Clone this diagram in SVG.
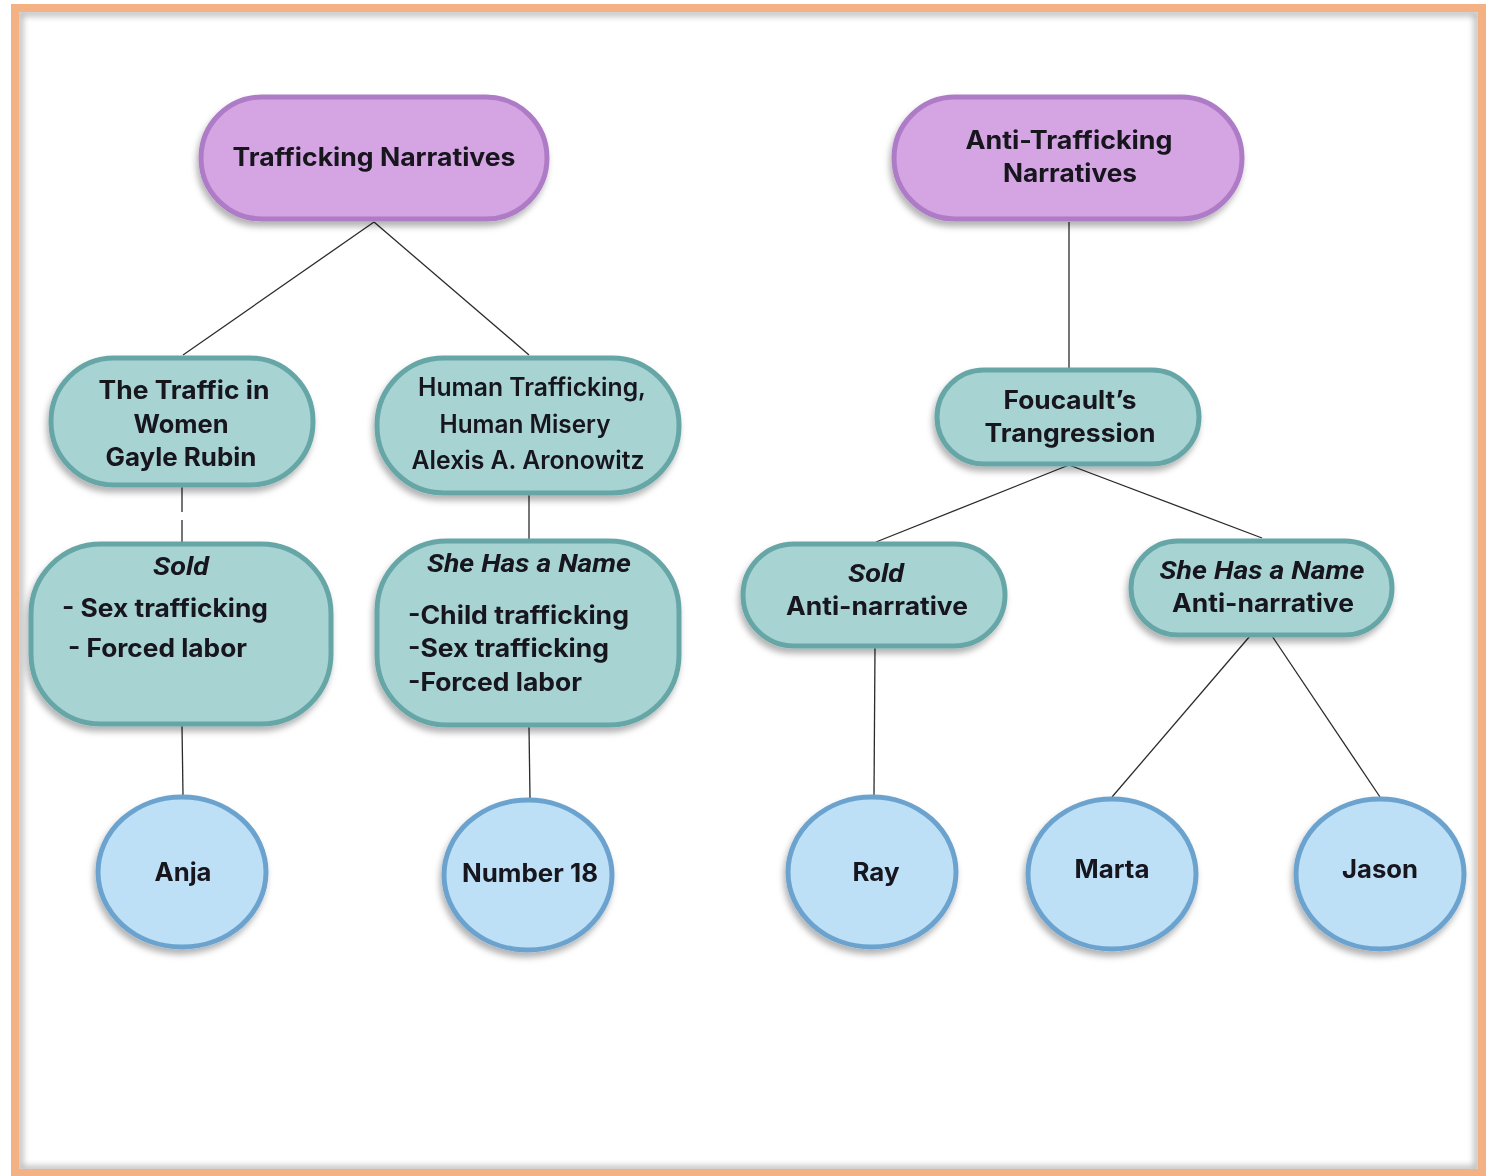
<svg xmlns="http://www.w3.org/2000/svg" width="1493" height="1176" viewBox="0 0 1493 1176">
<defs>
<filter id="sh" x="-20%" y="-20%" width="140%" height="150%">
<feDropShadow dx="-2" dy="5" stdDeviation="3" flood-color="#000" flood-opacity="0.3"/>
</filter>
<filter id="fsh" x="-5%" y="-5%" width="110%" height="110%">
<feGaussianBlur stdDeviation="3"/>
</filter>
</defs>
<style>
.root{fill:#D4A5E2;stroke:#AE7BC6;stroke-width:5}
.mid{fill:#A8D3D3;stroke:#66A6A7;stroke-width:5}
.leaf{fill:#BDE0F6;stroke:#6CA3CE;stroke-width:5}
text{font-family:Inter,"Noto Sans","Liberation Sans",sans-serif;font-size:25px;font-weight:700;fill:#16131f;text-anchor:middle}
.it{font-style:italic;font-family:Roboto,"Liberation Sans",sans-serif}
.md{font-weight:600}
.st{text-anchor:start}
.c{stroke:#2b2b2b;stroke-width:1.3;fill:none}
</style>
<rect x="0" y="0" width="1493" height="1176" fill="#fff"/>
<rect x="20" y="13" width="1457" height="1156" fill="none" stroke="#000" stroke-opacity="0.28" stroke-width="6" filter="url(#fsh)"/>
<rect x="15" y="8" width="1467" height="1165" fill="none" stroke="#F4B183" stroke-width="8"/>
<g id="connectors">
<path class="c" d="M374,222 L183,355"/>
<path class="c" d="M374,222 L529,355"/>
<path class="c" d="M182,487 V512 M182,520 V542"/>
<path class="c" d="M529,495 V540"/>
<path class="c" d="M182,726 L183,795"/>
<path class="c" d="M529,727 L530,798"/>
<path class="c" d="M1069,222 V368"/>
<path class="c" d="M1069,465 L876,542"/>
<path class="c" d="M1069,465 L1262,538"/>
<path class="c" d="M875,648 L874,795"/>
<path class="c" d="M1250,636 L1112,797"/>
<path class="c" d="M1272,636 L1380,797"/>
</g>
<g id="n-trafficking" filter="url(#sh)">
<rect class="root" x="201" y="97" width="346" height="122" rx="61"/>
<text x="374" y="166" textLength="283" lengthAdjust="spacingAndGlyphs">Trafficking Narratives</text>
</g>
<g id="n-anti" filter="url(#sh)">
<rect class="root" x="894" y="97" width="348" height="122" rx="61"/>
<text x="1069" y="149" textLength="207" lengthAdjust="spacingAndGlyphs">Anti-Trafficking</text>
<text x="1070" y="182" textLength="134" lengthAdjust="spacingAndGlyphs">Narratives</text>
</g>
<g id="n-rubin" filter="url(#sh)">
<rect class="mid" x="51" y="358" width="262" height="127" rx="63"/>
<text x="184" y="399" textLength="171" lengthAdjust="spacingAndGlyphs">The Traffic in</text>
<text x="181" y="433" textLength="95" lengthAdjust="spacingAndGlyphs">Women</text>
<text x="181" y="466" textLength="151" lengthAdjust="spacingAndGlyphs">Gayle Rubin</text>
</g>
<g id="n-aronowitz" filter="url(#sh)">
<rect class="mid" x="377" y="358" width="302" height="135" rx="67"/>
<text class="md" x="532" y="396" textLength="228" lengthAdjust="spacingAndGlyphs">Human Trafficking,</text>
<text class="md" x="525" y="433" textLength="171" lengthAdjust="spacingAndGlyphs">Human Misery</text>
<text class="md" x="528" y="469" textLength="233" lengthAdjust="spacingAndGlyphs">Alexis A. Aronowitz</text>
</g>
<g id="n-sold" filter="url(#sh)">
<rect class="mid" x="31" y="544" width="300" height="180" rx="70"/>
<text class="it" x="181" y="575" textLength="56" lengthAdjust="spacingAndGlyphs">Sold</text>
<text class="st" x="62" y="617" textLength="206" lengthAdjust="spacingAndGlyphs">- Sex trafficking</text>
<text class="st" x="68" y="657" textLength="179" lengthAdjust="spacingAndGlyphs">- Forced labor</text>
</g>
<g id="n-shehas" filter="url(#sh)">
<rect class="mid" x="377" y="541" width="302" height="184" rx="70"/>
<text class="it" x="529" y="572" textLength="204" lengthAdjust="spacingAndGlyphs">She Has a Name</text>
<text class="st" x="408" y="624" textLength="221" lengthAdjust="spacingAndGlyphs">-Child trafficking</text>
<text class="st" x="408" y="657" textLength="201" lengthAdjust="spacingAndGlyphs">-Sex trafficking</text>
<text class="st" x="408" y="691" textLength="174" lengthAdjust="spacingAndGlyphs">-Forced labor</text>
</g>
<g id="n-foucault" filter="url(#sh)">
<rect class="mid" x="937" y="370" width="262" height="94" rx="47"/>
<text x="1070" y="409" textLength="133" lengthAdjust="spacingAndGlyphs">Foucault’s</text>
<text x="1070" y="442" textLength="171" lengthAdjust="spacingAndGlyphs">Trangression</text>
</g>
<g id="n-sold-anti" filter="url(#sh)">
<rect class="mid" x="743" y="544" width="262" height="102" rx="51"/>
<text class="it" x="876" y="582" textLength="56" lengthAdjust="spacingAndGlyphs">Sold</text>
<text x="877" y="615" textLength="182" lengthAdjust="spacingAndGlyphs">Anti-narrative</text>
</g>
<g id="n-shehas-anti" filter="url(#sh)">
<rect class="mid" x="1131" y="541" width="261" height="94" rx="47"/>
<text class="it" x="1262" y="579" textLength="205" lengthAdjust="spacingAndGlyphs">She Has a Name</text>
<text x="1263" y="612" textLength="182" lengthAdjust="spacingAndGlyphs">Anti-narrative</text>
</g>
<g id="n-anja" filter="url(#sh)">
<ellipse class="leaf" cx="182" cy="872" rx="84" ry="75"/>
<text x="183" y="881" textLength="57" lengthAdjust="spacingAndGlyphs">Anja</text>
</g>
<g id="n-number18" filter="url(#sh)">
<ellipse class="leaf" cx="528" cy="875" rx="84" ry="75"/>
<text x="530" y="882" textLength="136" lengthAdjust="spacingAndGlyphs">Number 18</text>
</g>
<g id="n-ray" filter="url(#sh)">
<ellipse class="leaf" cx="872" cy="872" rx="84" ry="75"/>
<text x="876" y="881" textLength="47" lengthAdjust="spacingAndGlyphs">Ray</text>
</g>
<g id="n-marta" filter="url(#sh)">
<ellipse class="leaf" cx="1112" cy="874" rx="84" ry="75"/>
<text x="1112" y="878" textLength="75" lengthAdjust="spacingAndGlyphs">Marta</text>
</g>
<g id="n-jason" filter="url(#sh)">
<ellipse class="leaf" cx="1380" cy="874" rx="84" ry="75"/>
<text x="1380" y="878" textLength="76" lengthAdjust="spacingAndGlyphs">Jason</text>
</g>
</svg>
